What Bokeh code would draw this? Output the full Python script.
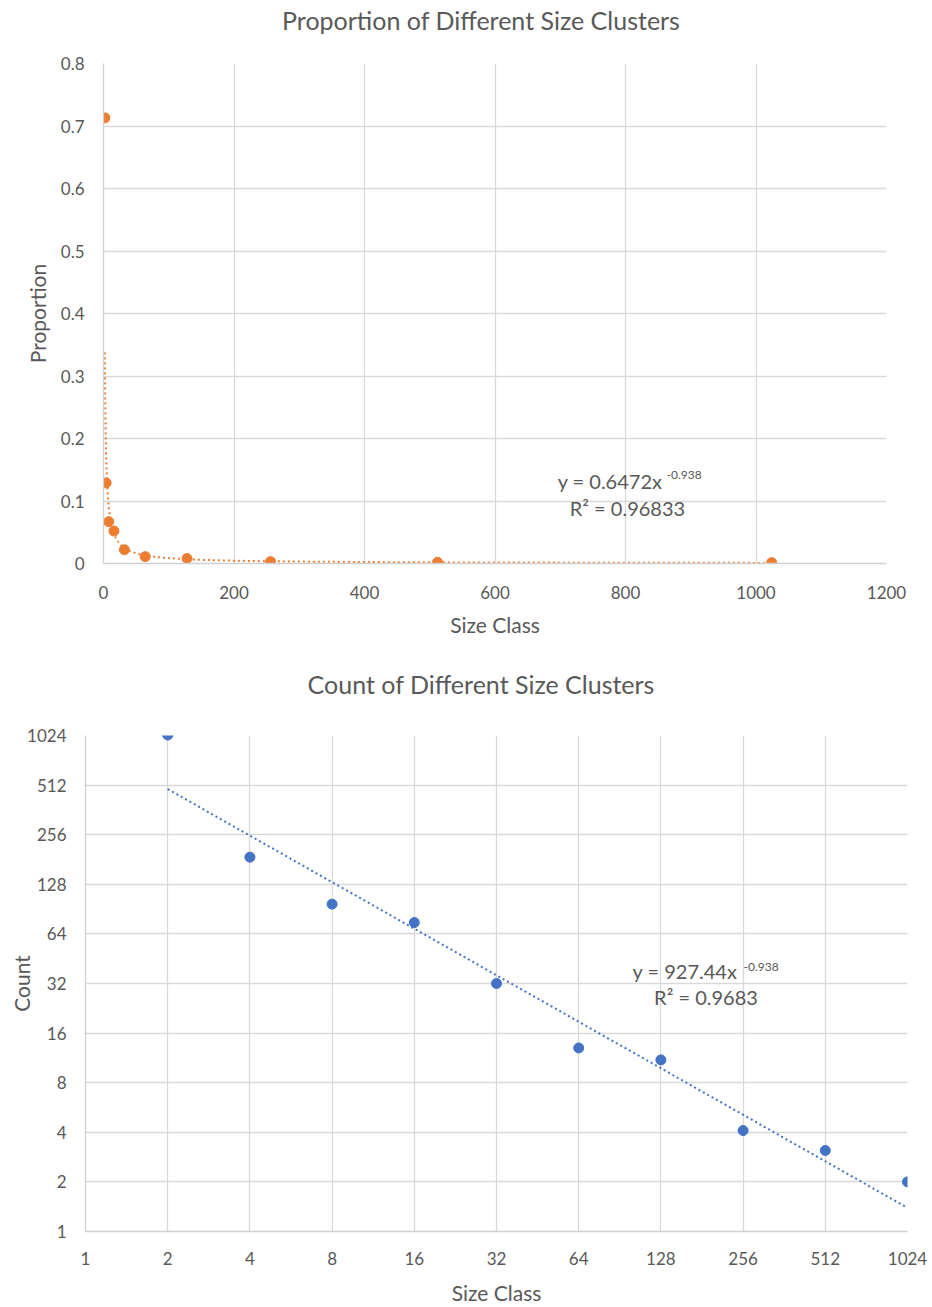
import numpy as np
from bokeh.plotting import figure
from bokeh.layouts import column, row
from bokeh.models import Range1d, FixedTicker, CustomJSTickFormatter, Label, Div
from bokeh.embed import file_html
from bokeh.resources import INLINE

# ---- data ----
size_class = [2, 4, 8, 16, 32, 64, 128, 256, 512, 1024]
proportion = [0.713, 0.129, 0.067, 0.052, 0.022, 0.011, 0.008, 0.003, 0.002, 0.0014]
count = [1030, 187, 97, 75, 32, 13, 11, 4.1, 3.1, 2]

prop_fit_a, prop_fit_b = 0.6472, -0.938
count_fit_a, count_fit_b = 927.44, -0.938

top_x_ticks = [0, 200, 400, 600, 800, 1000, 1200]
top_y_ticks = [0, 0.1, 0.2, 0.3, 0.4, 0.5, 0.6, 0.7, 0.8]
log_ticks = [1, 2, 4, 8, 16, 32, 64, 128, 256, 512, 1024]

top_title = "Proportion of Different Size Clusters"
bottom_title = "Count of Different Size Clusters"

ORANGE = "#ED7D31"
BLUE = "#4472C4"
GRID = "#D9D9D9"
TXT = "#595959"
FONT = "Lato"


def style(p):
    p.outline_line_color = None
    p.background_fill_color = "white"
    p.border_fill_color = "white"
    for ax in (p.xaxis, p.yaxis):
        ax.major_tick_line_color = None
        ax.minor_tick_line_color = None
        ax.axis_line_color = "#D0D0D0"
        ax.axis_line_width = 1.3
        ax.major_label_text_color = TXT
        ax.major_label_text_font = FONT
        ax.major_label_text_font_size = "17px"
        ax.axis_label_text_color = TXT
        ax.axis_label_text_font = FONT
        ax.axis_label_text_font_size = "21px"
        ax.axis_label_text_font_style = "normal"
    p.xgrid.grid_line_color = GRID
    p.ygrid.grid_line_color = GRID
    p.xgrid.grid_line_width = 1.3
    p.ygrid.grid_line_width = 1.3


def title_div(text, height, pad_top):
    html = ('<div style="width:962px;text-align:center;font-family:Lato;font-size:25px;'
            'line-height:30px;color:%s;padding-top:%dpx;white-space:nowrap;">%s</div>'
            % (TXT, pad_top, text))
    return Div(text=html, width=928, height=height, margin=(0, 0, 0, 0))


# ---- top chart ----
p1 = figure(width=928, height=605, output_backend="svg", toolbar_location=None,
            x_range=Range1d(0, 1200), y_range=Range1d(0, 0.8),
            min_border_left=103, min_border_right=42, min_border_top=23, min_border_bottom=82)
style(p1)
p1.xaxis.ticker = FixedTicker(ticks=top_x_ticks)
p1.yaxis.ticker = FixedTicker(ticks=top_y_ticks)
p1.yaxis.formatter = CustomJSTickFormatter(code="return String(Math.round(tick*10)/10)")
p1.xaxis.axis_label = "Size Class"
p1.yaxis.axis_label = "Proportion"
p1.xaxis.major_label_standoff = 16
p1.xaxis.axis_label_standoff = 10
p1.yaxis.major_label_standoff = 13
p1.yaxis.axis_label_standoff = 8

fx = np.geomspace(size_class[0], size_class[-1], 500)
p1.line(fx, prop_fit_a * fx ** prop_fit_b, line_color=ORANGE, line_width=2, line_dash="2 3")
p1.scatter(size_class, proportion, marker="circle", size=10, fill_color=ORANGE, line_color=ORANGE)

p1.add_layout(Label(x=696, y=0.1328, text="y = 0.6472x", text_font=FONT, text_font_size="20px",
                    text_color=TXT, text_baseline="middle", text_align="left"))
p1.add_layout(Label(x=863, y=0.1424, text="-0.938", text_font=FONT, text_font_size="12px",
                    text_color=TXT, text_baseline="middle", text_align="left"))
p1.add_layout(Label(x=803, y=0.0896, text="R² = 0.96833", text_font=FONT, text_font_size="20px",
                    text_color=TXT, text_baseline="middle", text_align="center"))

# ---- bottom chart ----
p2 = figure(width=928, height=602, output_backend="svg", toolbar_location=None,
            x_axis_type="log", y_axis_type="log",
            x_range=Range1d(1, 1024), y_range=Range1d(1, 1024),
            min_border_left=85, min_border_right=21, min_border_top=30, min_border_bottom=75)
style(p2)
p2.xaxis.ticker = FixedTicker(ticks=log_ticks)
p2.yaxis.ticker = FixedTicker(ticks=log_ticks)
p2.xaxis.formatter = CustomJSTickFormatter(code="return String(Math.round(tick))")
p2.yaxis.formatter = CustomJSTickFormatter(code="return String(Math.round(tick))")
p2.xaxis.axis_label = "Size Class"
p2.yaxis.axis_label = "Count"
p2.xaxis.major_label_standoff = 14
p2.xaxis.axis_label_standoff = 12
p2.yaxis.major_label_standoff = 13
p2.yaxis.axis_label_standoff = -10

p2.line(fx, count_fit_a * fx ** count_fit_b, line_color=BLUE, line_width=2, line_dash="2 3")
p2.scatter(size_class, count, marker="circle", size=10, fill_color=BLUE, line_color=BLUE)

p2.add_layout(Label(x=100.8, y=38.1, text="y = 927.44x", text_font=FONT, text_font_size="20px",
                    text_color=TXT, text_baseline="middle", text_align="left"))
p2.add_layout(Label(x=257, y=40.3, text="-0.938", text_font=FONT, text_font_size="12px",
                    text_color=TXT, text_baseline="middle", text_align="left"))
p2.add_layout(Label(x=187.2, y=26.5, text="R² = 0.9683", text_font=FONT, text_font_size="20px",
                    text_color=TXT, text_baseline="middle", text_align="center"))

layout = column(title_div(top_title, 40, 5), row(p1),
                title_div(bottom_title, 60, 24), row(p2))
open("out.html", "w").write(file_html(layout, INLINE))
